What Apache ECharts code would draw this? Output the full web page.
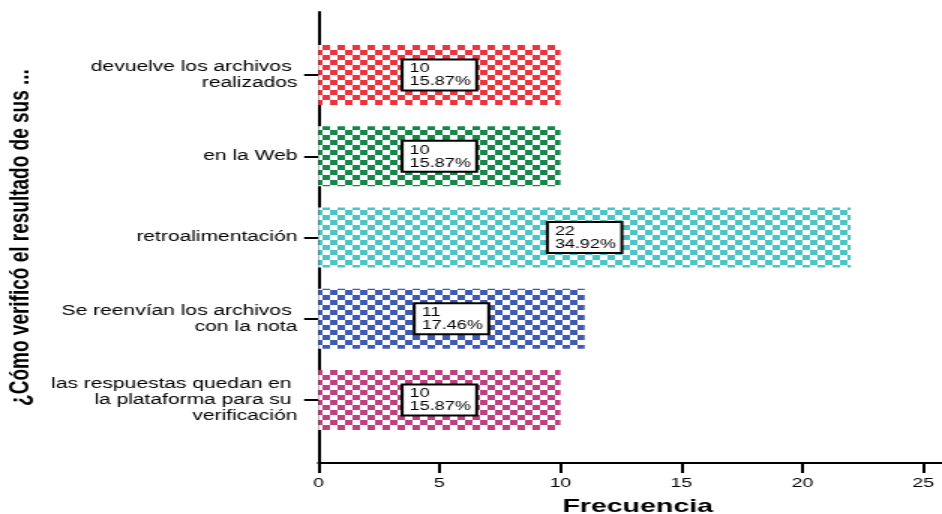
<!DOCTYPE html>
<html><head><meta charset="utf-8">
<script src="https://cdn.jsdelivr.net/npm/echarts@6/dist/echarts.min.js"></script>
<style>
html,body{margin:0;padding:0;overflow:hidden;background:#fff;width:942px;height:514px}
#chart{width:628px;height:514px;transform:scaleX(1.5);transform-origin:0 0}
</style></head><body><div id="chart"></div>
<script>
const categories = [
  'devuelve los archivos \nrealizados',
  'en la Web',
  'retroalimentación',
  'Se reenvían los archivos \ncon la nota',
  'las respuestas quedan en \nla plataforma para su \nverificación'
];
const counts = [10, 10, 22, 11, 10];
const percents = ['15.87%', '15.87%', '34.92%', '17.46%', '15.87%'];
const xTicks = [0, 5, 10, 15, 20, 25];
const barColors = ['#EF333D', '#15874A', '#49C5C6', '#3F5AB3', '#BF3F80'];
const yTitle = '¿Cómo verificó el resultado de sus ...';
const xTitle = 'Frecuencia';

const FONT = '"Liberation Sans", Arial, Helvetica, sans-serif';
const LEFT = 212.3;
const XMAX = 25.77;

function checker(color) {
  const c = document.createElement('canvas');
  c.width = 10; c.height = 10;
  const g = c.getContext('2d');
  g.fillStyle = '#ffffff'; g.fillRect(0, 0, 10, 10);
  g.fillStyle = color;
  g.fillRect(0, 0, 5, 5);
  g.fillRect(5, 5, 5, 5);
  return c;
}

const chart = echarts.init(document.getElementById('chart'), null, {renderer: 'canvas'});
chart.setOption({
  animation: false,
  backgroundColor: '#ffffff',
  textStyle: {fontFamily: FONT},
  grid: [
    {left: LEFT, right: 0, top: 12, bottom: 51, containLabel: false, outerBoundsMode: 'none'},
    {left: LEFT, right: 0, top: 34.4, bottom: 73.4, containLabel: false, outerBoundsMode: 'none'}
  ],
  xAxis: [
    {
      type: 'value', gridIndex: 0, min: 0, max: XMAX,
      splitLine: {show: false},
      axisLine: {show: true, lineStyle: {color: '#000', width: 2}},
      axisTick: {show: true, length: 10, customValues: xTicks, lineStyle: {color: '#000', width: 2}},
      axisLabel: {customValues: xTicks, margin: 14, fontSize: 13, color: '#000', fontFamily: FONT},
      name: xTitle, nameLocation: 'middle', nameGap: 34,
      nameTextStyle: {fontSize: 19, fontWeight: 'bold', color: '#000', fontFamily: FONT, padding: [0, 0, 0, 10]}
    },
    {
      type: 'value', gridIndex: 1, min: 0, max: XMAX, show: false,
      splitLine: {show: false}
    }
  ],
  yAxis: [
    {
      type: 'value', gridIndex: 0, min: 0, max: 1,
      splitLine: {show: false},
      axisLine: {show: true, lineStyle: {color: '#000', width: 2}},
      axisTick: {show: false}, axisLabel: {show: false}
    },
    {
      type: 'category', gridIndex: 1, data: categories, inverse: true,
      axisLine: {show: false},
      axisTick: {show: true, alignWithLabel: true, length: 9.5, lineStyle: {color: '#000', width: 2}},
      axisLabel: {margin: 14, fontSize: 14, lineHeight: 16, color: '#000', fontFamily: FONT, align: 'right'},
      name: yTitle, nameLocation: 'middle', nameGap: 179, nameRotate: 90,
      nameTextStyle: {fontSize: 19, fontWeight: 'bold', color: '#000', fontFamily: FONT}
    }
  ],
  series: [{
    type: 'bar',
    xAxisIndex: 1, yAxisIndex: 1,
    barWidth: 60,
    data: counts.map((v, i) => ({
      value: v,
      itemStyle: {color: {image: checker(barColors[i]), repeat: 'repeat'}}
    })),
    label: {
      show: true, position: 'inside',
      formatter: p => '{v|' + counts[p.dataIndex] + '}\n{v|' + percents[p.dataIndex] + '}',
      backgroundColor: '#ffffff', borderColor: '#000', borderWidth: 2,
      padding: [2, 3, 1, 4],
      rich: {v: {fontSize: 12, lineHeight: 13, color: '#000', fontFamily: FONT, align: 'left'}}
    }
  }]
});
</script></body></html>
